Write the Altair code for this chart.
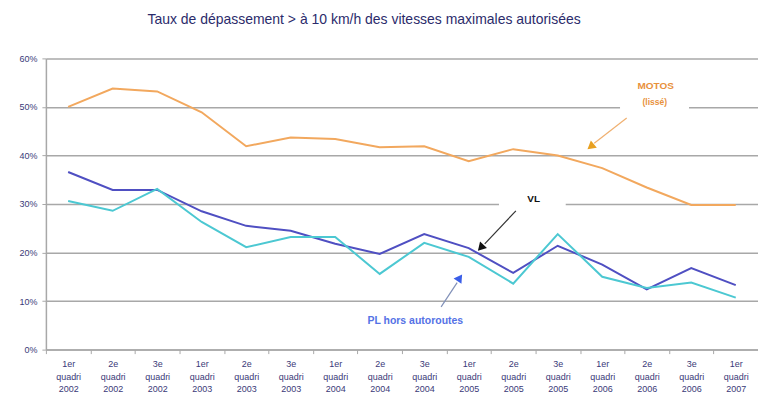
import json
import altair as alt
import pandas as pd

categories = ["1er|quadri|2002", "2e|quadri|2002", "3e|quadri|2002",
              "1er|quadri|2003", "2e|quadri|2003", "3e|quadri|2003",
              "1er|quadri|2004", "2e|quadri|2004", "3e|quadri|2004",
              "1er|quadri|2005", "2e|quadri|2005", "3e|quadri|2005",
              "1er|quadri|2006", "2e|quadri|2006", "3e|quadri|2006",
              "1er|quadri|2007"]
motos = [50.0, 53.8, 53.2, 48.9, 41.9, 43.7, 43.4, 41.7, 41.9, 38.8, 41.3, 40.0, 37.4, 33.4, 29.8, 29.8]
vl = [36.6, 32.9, 32.9, 28.5, 25.5, 24.5, 21.8, 19.7, 23.8, 20.9, 15.8, 21.4, 17.5, 12.4, 16.8, 13.3]
pl = [30.6, 28.6, 33.1, 26.3, 21.1, 23.2, 23.2, 15.6, 22.0, 19.1, 13.6, 23.8, 15.0, 12.7, 13.8, 10.7]
series_names = ["MOTOS", "VL", "PL"]
series_colors = ["#f2a85e", "#4f4fc2", "#4cc8d2"]

# annotations (data coordinates: category index, percent)
ann_text = ["MOTOS", "(lissé)", "VL", "PL hors autoroutes"]
ann_x = [13.2, 13.18, 10.46, 7.8]
ann_y = [54.3, 51.0, 31.0, 5.8]
ann_color = ["#e8913c", "#e8913c", "#111111", "#5572e6"]
ann_size = [10, 8.5, 10, 10.5]

box_x = [12.40, 9.68]
box_x2 = [13.95, 11.18]
box_y = [57.2, 33.0]
box_y2 = [48.8, 28.4]

arrow_x = [12.55, 10.06, 8.38]
arrow_y = [47.7, 28.6, 8.8]
arrow_x2 = [11.82, 9.36, 8.74]
arrow_y2 = [42.5, 21.8, 13.8]
arrow_line_color = ["#f0b070", "#333333", "#8090b8"]
head_x = [11.74, 9.27, 8.80]
head_y = [41.8, 21.0, 14.8]
head_angle = [231, 223, 34]
head_color = ["#e8a020", "#111111", "#3a5ee8"]

rows = []
for name, vals in zip(series_names, [motos, vl, pl]):
    for i, v in enumerate(vals):
        rows.append({"idx": i, "val": v, "serie": name})
df = pd.DataFrame(rows)

ann_df = pd.DataFrame({"x": ann_x, "y": ann_y, "t": ann_text, "c": ann_color, "s": ann_size})
box_df = pd.DataFrame({"x": box_x, "x2": box_x2, "y": box_y, "y2": box_y2})
arr_df = pd.DataFrame({"x": arrow_x, "y": arrow_y, "x2": arrow_x2, "y2": arrow_y2, "c": arrow_line_color})
head_df = pd.DataFrame({"x": head_x, "y": head_y, "a": head_angle, "c": head_color})

label_color = "#3a3a78"
xscale = alt.Scale(domain=[-0.5, 15.5], nice=False, zero=False)
yscale = alt.Scale(domain=[0, 60], nice=False)
label_expr = ("datum.value < 15 ? split(" + json.dumps(categories) +
              "[round(datum.value + 0.5)], '|') : ''")
xaxis = alt.Axis(values=[i - 0.5 for i in range(17)], labelExpr=label_expr,
                 labelOffset=22.3, labelFlush=False, labelOverlap=False, labelBound=False,
                 grid=False, title=None, tickSize=4, tickColor="#a8a8a8",
                 domainColor="#a8a8a8", domainWidth=1.5,
                 labelFont="Liberation Sans", labelFontSize=9, labelColor=label_color,
                 labelLineHeight=12.5, labelPadding=6, labelBaseline="top")
yaxis = alt.Axis(values=[0, 10, 20, 30, 40, 50, 60], labelExpr="datum.value + '%'",
                 grid=True, gridColor="#a8a8a8", gridWidth=1.5, title=None,
                 tickSize=4, tickColor="#a8a8a8", domainColor="#a8a8a8", domainWidth=1.5,
                 labelFont="Liberation Sans", labelFontSize=9, labelColor=label_color,
                 labelPadding=5)

def X(f):
    return alt.X(f, type="quantitative", scale=xscale, axis=xaxis)

def Y(f):
    return alt.Y(f, type="quantitative", scale=yscale, axis=yaxis)

boxes = alt.Chart(box_df).mark_rect(fill="white").encode(
    x=X("x"), x2="x2", y=Y("y"), y2="y2")

lines = alt.Chart(df).mark_line(strokeWidth=2).encode(
    x=X("idx"), y=Y("val"),
    color=alt.Color("serie:N", scale=alt.Scale(domain=series_names, range=series_colors), legend=None),
    detail="serie:N")

arrows = alt.Chart(arr_df).mark_rule(strokeWidth=1.2).encode(
    x=X("x"), y=Y("y"), x2="x2", y2="y2",
    color=alt.Color("c:N", scale=None))

heads = alt.Chart(head_df).mark_point(shape="triangle-up", filled=True, size=90, opacity=1).encode(
    x=X("x"), y=Y("y"), angle=alt.Angle("a:Q", scale=None),
    color=alt.Color("c:N", scale=None))

texts = alt.Chart(ann_df).mark_text(font="Liberation Sans", fontWeight="bold").encode(
    x=X("x"), y=Y("y"), text="t:N",
    color=alt.Color("c:N", scale=None), size=alt.Size("s:Q", scale=None))

chart = alt.layer(boxes, lines, arrows, heads, texts).properties(
    width=714, height=292,
    autosize=alt.AutoSizeParams(type="none"),
    padding={"left": 38, "top": 50, "right": 0, "bottom": 52},
    title=alt.TitleParams("Taux de dépassement > à 10 km/h des vitesses maximales autorisées",
                          font="Liberation Sans", fontSize=14, fontWeight="normal",
                          color="#2b2b6b", anchor="middle", dx=-38, offset=27),
).configure_view(stroke=None)

chart.save("out.html", embed_options={"renderer": "svg", "actions": False})
